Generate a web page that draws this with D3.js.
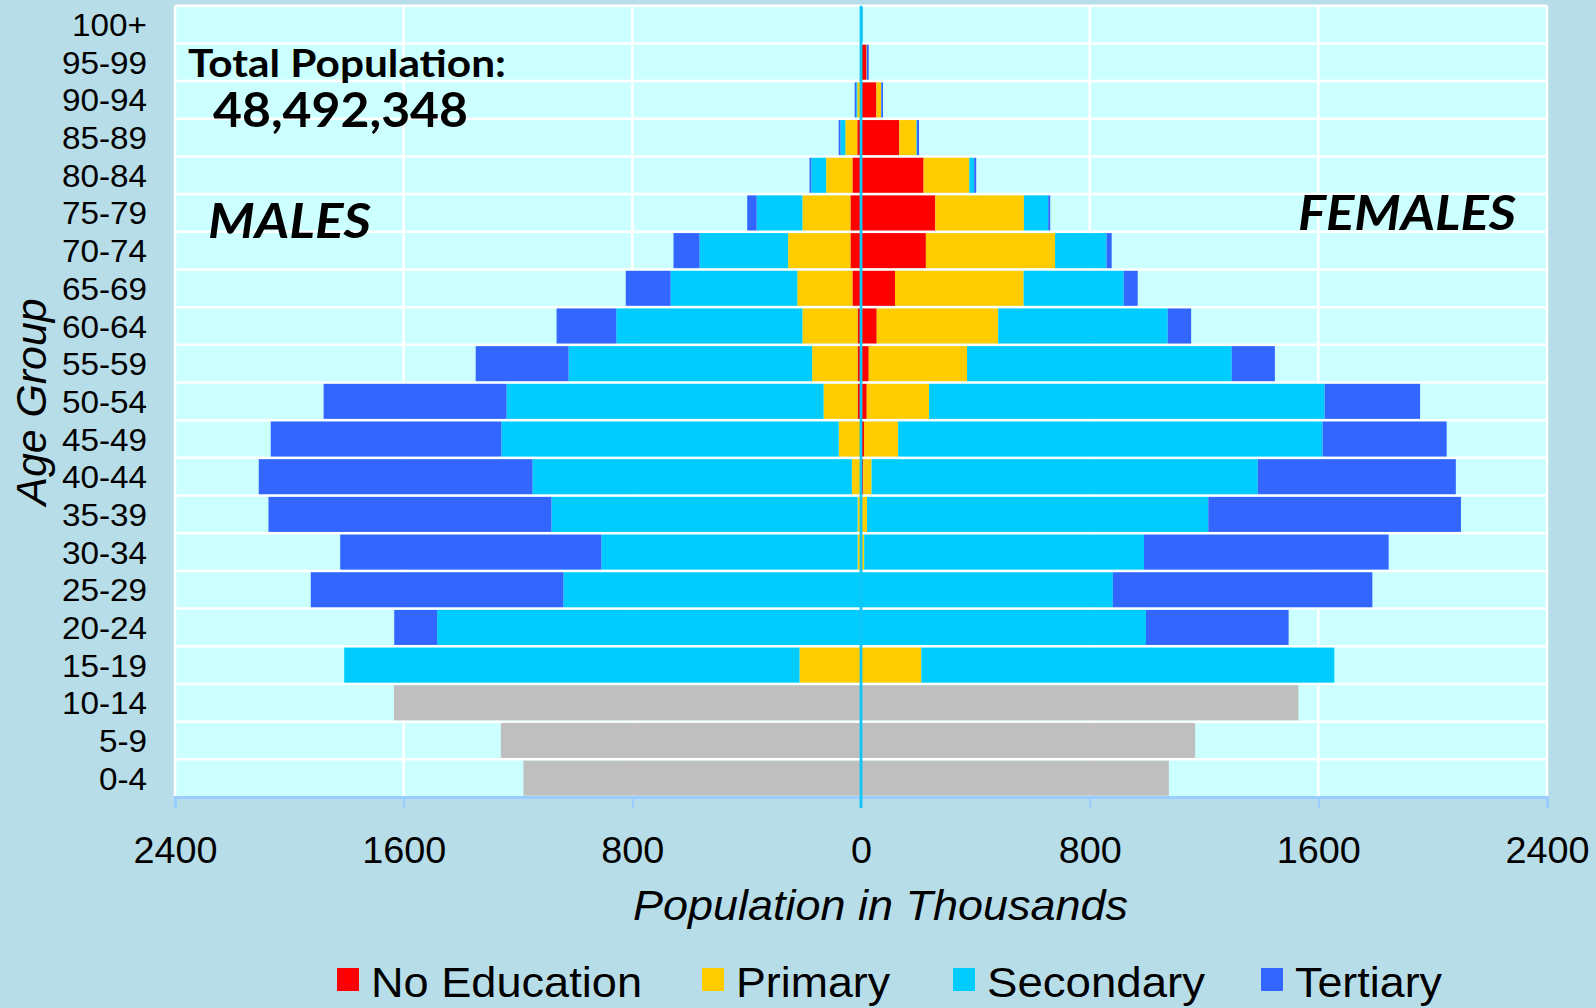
<!DOCTYPE html>
<html>
<head>
<meta charset="utf-8">
<script src="https://cdn.jsdelivr.net/npm/d3@7"></script>
<style>
  html, body { margin: 0; padding: 0; background: #b7dde8; overflow: hidden; }
  svg { display: block; }
</style>
</head>
<body>
<svg id="chart" width="1596" height="1008"></svg>
<script>
// ---- data (thousands) ----
const ageGroups = ["0-4", "5-9", "10-14", "15-19", "20-24", "25-29", "30-34", "35-39",
  "40-44", "45-49", "50-54", "55-59", "60-64", "65-69", "70-74", "75-79", "80-84",
  "85-89", "90-94", "95-99", "100+"];

// under-15 groups have no education split
const childGroups = ["0-4", "5-9", "10-14"];
const maleChildren = [1181, 1260, 1634];
const femaleChildren = [1077, 1169, 1530];

const adultGroups = ["15-19", "20-24", "25-29", "30-34", "35-39", "40-44", "45-49",
  "50-54", "55-59", "60-64", "65-69", "70-74", "75-79", "80-84", "85-89", "90-94",
  "95-99", "100+"];

const maleNoEducation = [0, 0, 0, 1, 1, 4, 4, 12, 12, 12, 30, 37, 37, 30, 13, 3, 1, 0];
const malePrimary     = [215, 2, 3, 11, 11, 28, 74, 119, 159, 193, 193, 218, 168, 92, 42, 10, 1, 0];
const maleSecondary   = [1593, 1481, 1038, 896, 1071, 1117, 1180, 1109, 852, 651, 443, 310, 160, 52, 17, 4, 0, 0];
const maleTertiary    = [0, 150, 884, 914, 990, 958, 807, 640, 325, 209, 157, 91, 33, 6, 6, 5, 0, 0];

const femaleNoEducation = [0, 0, 0, 1, 2, 8, 11, 20, 27, 55, 119, 227, 260, 219, 134, 54, 19, 0];
const femalePrimary     = [211, 2, 3, 10, 19, 29, 119, 218, 344, 425, 450, 452, 310, 160, 60, 16, 1, 0];
const femaleSecondary   = [1445, 995, 878, 979, 1194, 1351, 1485, 1384, 926, 593, 350, 180, 85, 17, 2, 1, 0, 6];
const femaleTertiary    = [0, 499, 908, 856, 884, 693, 434, 334, 151, 82, 49, 18, 7, 7, 7, 6, 7, 0];

const educationLevels = ["noEducation", "primary", "secondary", "tertiary"];
const levelLabels = ["No Education", "Primary", "Secondary", "Tertiary"];
const levelColors = ["#ff0000", "#ffcc00", "#00ccff", "#3366ff"];

const xTicks = [-2400, -1600, -800, 0, 800, 1600, 2400];
const totalPopulation = "48,492,348";

// ---- layout ----
const W = 1596, H = 1008;
const plot = { left: 175, right: 1547, top: 5.7, bottom: 797 };
const arial = "'Liberation Sans', Arial, sans-serif";
const calibri = "Lato, 'Open Sans', sans-serif";

const svg = d3.select("#chart");
svg.append("rect").attr("width", W).attr("height", H).attr("fill", "#b7dde8");

const x = d3.scaleLinear().domain([-2400, 2400]).range([plot.left, plot.right]);
const y = d3.scaleBand()
  .domain(ageGroups.slice().reverse())
  .range([plot.top, plot.bottom])
  .paddingInner(0.07)
  .paddingOuter(0.035);

// plot background
svg.append("rect")
  .attr("x", plot.left).attr("y", plot.top)
  .attr("width", plot.right - plot.left).attr("height", plot.bottom - plot.top)
  .attr("fill", "#ccffff");

// white grid
const grid = svg.append("g").attr("stroke", "#ffffff").attr("stroke-width", 2.5);
grid.selectAll("line.h")
  .data(d3.range(ageGroups.length))
  .join("line")
  .attr("class", "h")
  .attr("x1", plot.left).attr("x2", plot.right)
  .attr("y1", i => plot.top + i * y.step())
  .attr("y2", i => plot.top + i * y.step());
grid.selectAll("line.v")
  .data(xTicks.filter(d => d !== 0))
  .join("line")
  .attr("class", "v")
  .attr("x1", d => x(d)).attr("x2", d => x(d))
  .attr("y1", plot.top).attr("y2", plot.bottom);

// build stack tables
function buildRows(noEd, prim, sec, ter) {
  return adultGroups.map((age, i) => ({
    age,
    noEducation: noEd[i],
    primary: prim[i],
    secondary: sec[i],
    tertiary: ter[i]
  }));
}
const maleRows = buildRows(maleNoEducation, malePrimary, maleSecondary, maleTertiary);
const femaleRows = buildRows(femaleNoEducation, femalePrimary, femaleSecondary, femaleTertiary);

const stack = d3.stack().keys(educationLevels);

function drawSide(rows, sign) {
  const series = stack(rows);
  svg.append("g")
    .selectAll("g")
    .data(series)
    .join("g")
    .attr("fill", (d, i) => levelColors[i])
    .selectAll("rect")
    .data(d => d.filter(p => p[1] > p[0]))
    .join("rect")
    .attr("x", d => sign < 0 ? x(-d[1]) : x(d[0]))
    .attr("width", d => x(d[1]) - x(d[0]))
    .attr("y", d => y(d.data.age))
    .attr("height", y.bandwidth());
}
drawSide(maleRows, -1);
drawSide(femaleRows, 1);

// children, grey totals
const kids = svg.append("g").attr("fill", "#bfbfbf");
kids.selectAll("rect.m")
  .data(childGroups)
  .join("rect")
  .attr("class", "m")
  .attr("x", (d, i) => x(-maleChildren[i]))
  .attr("width", (d, i) => x(0) - x(-maleChildren[i]))
  .attr("y", d => y(d)).attr("height", y.bandwidth());
kids.selectAll("rect.f")
  .data(childGroups)
  .join("rect")
  .attr("class", "f")
  .attr("x", x(0))
  .attr("width", (d, i) => x(femaleChildren[i]) - x(0))
  .attr("y", d => y(d)).attr("height", y.bandwidth());

// x axis
const xAxis = d3.axisBottom(x)
  .tickValues(xTicks)
  .tickFormat(d => Math.abs(d))
  .tickSize(11)
  .tickSizeOuter(11)
  .tickPadding(29);
const gx = svg.append("g").attr("transform", `translate(0,${plot.bottom})`).call(xAxis);
gx.select(".domain").attr("stroke", "#99ccff").attr("stroke-width", 3);
gx.selectAll(".tick line").attr("stroke", "#99ccff").attr("stroke-width", 2);
gx.selectAll(".tick text")
  .attr("fill", "#000")
  .attr("font-family", arial)
  .attr("font-size", 36)
  .attr("transform", "scale(1.05,1)");

// center line
svg.append("line")
  .attr("x1", x(0)).attr("x2", x(0))
  .attr("y1", plot.top).attr("y2", plot.bottom + 11)
  .attr("stroke", "#0fc6f6").attr("stroke-width", 2.8);

// y axis
const yPad = 28, ySX = 1.04;
const yAxis = d3.axisLeft(y).tickSize(0).tickPadding(yPad);
const gy = svg.append("g").attr("transform", `translate(${plot.left},0)`).call(yAxis);
gy.select(".domain").remove();
gy.selectAll(".tick text")
  .attr("fill", "#000")
  .attr("font-family", arial)
  .attr("font-size", 32)
  .attr("x", -yPad / ySX)
  .attr("dy", "0.36em")
  .attr("transform", `scale(${ySX},1)`);

// axis titles
svg.append("text")
  .attr("transform", "translate(45.5,402) rotate(-90)")
  .attr("text-anchor", "middle")
  .attr("font-family", arial)
  .attr("font-style", "italic")
  .attr("font-size", 43)
  .attr("textLength", 207)
  .attr("lengthAdjust", "spacingAndGlyphs")
  .text("Age Group");

svg.append("text")
  .attr("x", 880.5).attr("y", 920)
  .attr("text-anchor", "middle")
  .attr("font-family", arial)
  .attr("font-style", "italic")
  .attr("font-size", 42)
  .attr("textLength", 495)
  .attr("lengthAdjust", "spacingAndGlyphs")
  .text("Population in Thousands");

// annotations
function note(txt, px, py, size, len, italic) {
  svg.append("text")
    .attr("x", px).attr("y", py)
    .attr("font-family", calibri)
    .attr("font-weight", "bold")
    .attr("font-style", italic ? "italic" : "normal")
    .attr("font-size", size)
    .attr("textLength", len)
    .attr("lengthAdjust", "spacingAndGlyphs")
    .text(txt);
}
note("Total Population:", 188, 77, 38, 318, false);
note(totalPopulation, 213, 127, 48, 255, false);
note("MALES", 208, 238, 48, 163, true);
note("FEMALES", 1298, 230, 48, 218, true);

// legend
const legendX = [337, 702, 953, 1261];
const legendLen = [271, 154, 218, 147];
const legend = svg.append("g");
const items = legend.selectAll("g")
  .data(levelLabels)
  .join("g")
  .attr("transform", (d, i) => `translate(${legendX[i]},968)`);
items.append("rect")
  .attr("width", 22).attr("height", 23)
  .attr("fill", (d, i) => levelColors[i]);
items.append("text")
  .attr("x", 34).attr("y", 29)
  .attr("font-family", arial)
  .attr("font-size", 42)
  .attr("textLength", (d, i) => legendLen[i])
  .attr("lengthAdjust", "spacingAndGlyphs")
  .text(d => d);
</script>
</body>
</html>
